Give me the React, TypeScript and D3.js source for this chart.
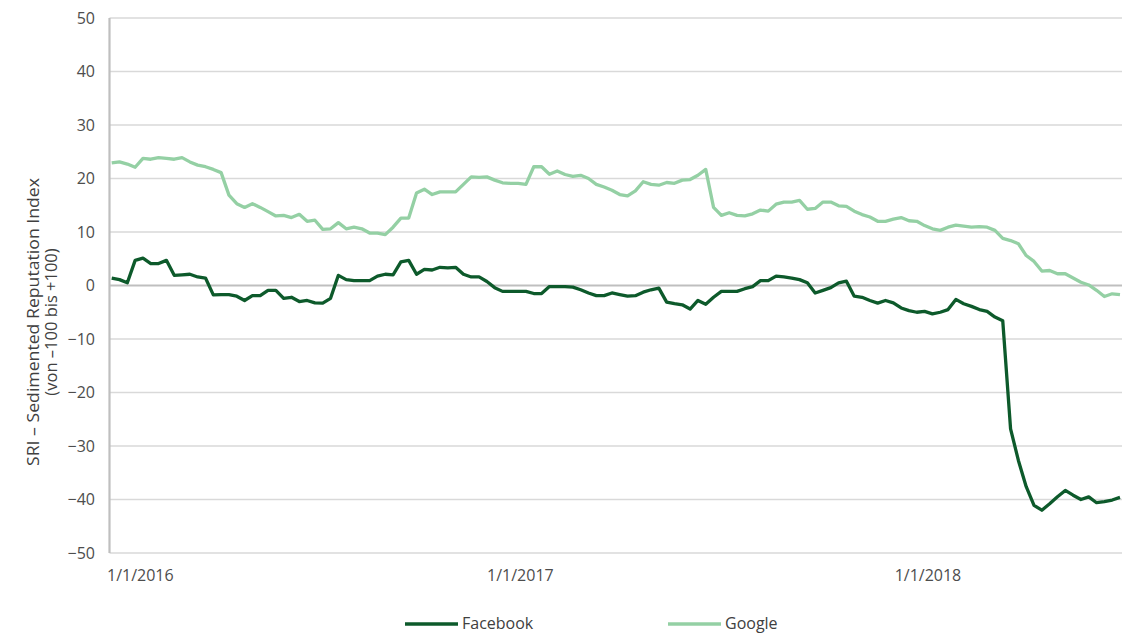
import React from "react";
import * as d3 from "d3";

const startDate = new Date(2016, 0, 1);
const facebook: number[] = [
  1.4, 1.1, 0.5, 4.7, 5.1, 4.1, 4.1, 4.7, 1.9, 2.0,
  2.1, 1.6, 1.4, -1.75, -1.7, -1.7, -2.0, -2.8, -1.9, -1.9,
  -0.9, -0.9, -2.4, -2.2, -3.0, -2.8, -3.25, -3.3, -2.4, 1.9,
  1.1, 0.9, 0.9, 0.9, 1.75, 2.1, 2.0, 4.4, 4.7, 2.1,
  3.0, 2.9, 3.4, 3.3, 3.4, 2.1, 1.6, 1.6, 0.75, -0.4,
  -1.1, -1.1, -1.1, -1.1, -1.5, -1.5, -0.2, -0.2, -0.2, -0.3,
  -0.8, -1.4, -1.9, -1.9, -1.4, -1.7, -2.0, -1.9, -1.25, -0.8,
  -0.5, -3.1, -3.4, -3.6, -4.4, -2.8, -3.5, -2.2, -1.1, -1.1,
  -1.1, -0.6, -0.2, 0.9, 0.9, 1.75, 1.6, 1.4, 1.1, 0.5,
  -1.4, -0.9, -0.4, 0.5, 0.8, -2.0, -2.2, -2.8, -3.3, -2.8,
  -3.25, -4.2, -4.7, -5.0, -4.85, -5.3, -5.0, -4.5, -2.6, -3.4,
  -3.9, -4.5, -4.85, -5.9, -6.6, -26.8, -32.7, -37.6, -41.1, -42.0,
  -40.8, -39.5, -38.3, -39.2, -40.0, -39.5, -40.6, -40.4, -40.1, -39.6,
];
const google: number[] = [
  22.9, 23.1, 22.7, 22.1, 23.75, 23.6, 23.9, 23.75, 23.6, 23.9,
  23.1, 22.5, 22.2, 21.7, 21.1, 16.9, 15.3, 14.6, 15.3, 14.6,
  13.8, 13.0, 13.1, 12.7, 13.3, 12.0, 12.2, 10.5, 10.6, 11.75,
  10.6, 10.9, 10.6, 9.8, 9.8, 9.5, 10.9, 12.6, 12.6, 17.3,
  18.0, 17.0, 17.5, 17.5, 17.5, 18.9, 20.3, 20.2, 20.3, 19.7,
  19.2, 19.1, 19.1, 18.9, 22.2, 22.2, 20.8, 21.4, 20.75, 20.4,
  20.6, 20.0, 18.9, 18.4, 17.8, 17.0, 16.75, 17.7, 19.4, 18.9,
  18.75, 19.25, 19.1, 19.7, 19.8, 20.6, 21.7, 14.6, 13.1, 13.6,
  13.1, 13.0, 13.4, 14.1, 13.9, 15.2, 15.6, 15.6, 15.9, 14.25,
  14.4, 15.6, 15.6, 14.9, 14.8, 13.9, 13.25, 12.8, 12.0, 12.0,
  12.4, 12.7, 12.1, 12.0, 11.2, 10.6, 10.3, 10.9, 11.3, 11.1,
  10.9, 11.0, 10.9, 10.3, 8.8, 8.4, 7.8, 5.6, 4.5, 2.7,
  2.8, 2.2, 2.2, 1.4, 0.6, 0.1, -0.9, -2.05, -1.55, -1.7,
];
const dates: Date[] = facebook.map((_, i) => d3.timeDay.offset(startDate, i * 7));
const xTickDates = [new Date(2016, 0, 1), new Date(2017, 0, 1), new Date(2018, 0, 1)];
const xTickLabels = ["1/1/2016", "1/1/2017", "1/1/2018"];
const yTicks = [50, 40, 30, 20, 10, 0, -10, -20, -30, -40, -50];
const seriesNames = ["Facebook", "Google"];
const seriesColors = ["#0d5a2b", "#94d0a4"];

const W = 1126, H = 633;
const left = 109.5, right = 1122, top = 18, bottom = 553;
const font = "'Open Sans', 'Noto Sans', sans-serif";

export default function App() {
  const x = d3.scaleTime().domain([dates[0], dates[dates.length - 1]]).range([111.7, 1120]);
  const y = d3.scaleLinear().domain([-50, 50]).range([bottom, top]);
  const fmt = d3.format("d");
  const line = d3.line<number>().x((_, i) => x(dates[i])).y((d) => y(d)).curve(d3.curveLinear);
  const series = [facebook, google];
  return (
    <svg width={W} height={H} style={{ position: "absolute", left: 0, top: 0, background: "#fff" }}>
      {yTicks.map((t) =>
        t === 0 ? null : (
          <line key={t} x1={left} x2={right} y1={y(t)} y2={y(t)} stroke="#d9d9d9" strokeWidth={1.3} />
        )
      )}
      <line x1={left} x2={right} y1={y(0)} y2={y(0)} stroke="#bfbfbf" strokeWidth={2.2} />
      <line x1={left} x2={left} y1={top} y2={bottom} stroke="#bfbfbf" strokeWidth={2.2} />
      {yTicks.map((t) => (
        <text key={t} x={95} y={y(t) + 5.5} textAnchor="end" fontFamily={font} fontSize={16} fill="#4d4d4d">
          {fmt(t)}
        </text>
      ))}
      {xTickDates.map((d, i) => (
        <text
          key={i}
          x={i === 0 ? 107 : x(d)}
          y={581}
          textAnchor={i === 0 ? "start" : "middle"}
          fontFamily={font}
          fontSize={16}
          fill="#4d4d4d"
        >
          {xTickLabels[i]}
        </text>
      ))}
      <g transform="translate(0,322) rotate(-90)" fontFamily={font} fontSize={16.5} fill="#404040">
        <text x={0} y={39} textAnchor="middle" textLength={288} lengthAdjust="spacingAndGlyphs">SRI – Sedimented Reputation Index</text>
        <text x={0} y={57} textAnchor="middle">(von –100 bis +100)</text>
      </g>
      {series.map((s, k) => (
        <path key={k} d={line(s) || ""} fill="none" stroke={seriesColors[k]} strokeWidth={3.3} strokeLinejoin="round" />
      ))}
      {seriesNames.map((n, k) => {
        const lx = k === 0 ? 405 : 668;
        return (
          <g key={n}>
            <line x1={lx} x2={lx + 53} y1={624} y2={624} stroke={seriesColors[k]} strokeWidth={3.5} />
            <text x={lx + 57} y={629} fontFamily={font} fontSize={16} fill="#404040">
              {n}
            </text>
          </g>
        );
      })}
    </svg>
  );
}
